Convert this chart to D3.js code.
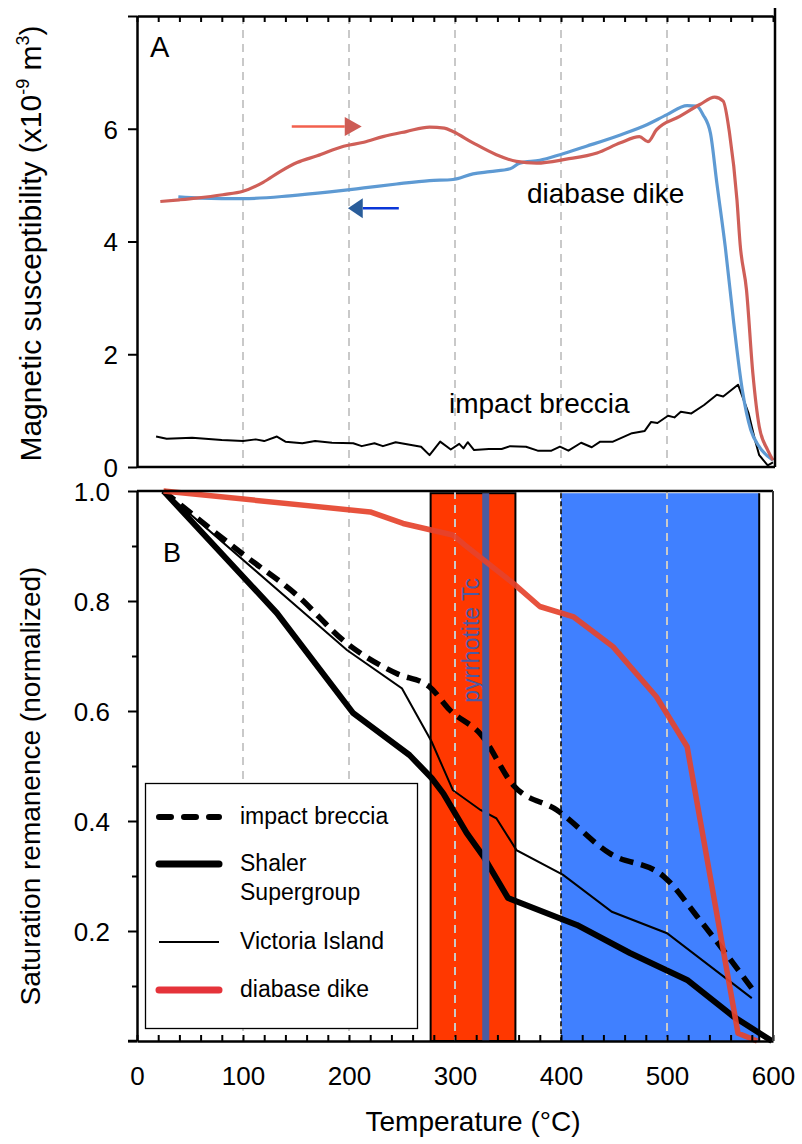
<!DOCTYPE html>
<html>
<head>
<meta charset="utf-8">
<script src="https://cdn.jsdelivr.net/npm/d3@7"></script>
<style>
  body { margin: 0; background: #fff; }
  svg { display: block; font-family: "Liberation Sans", Arial, sans-serif; }
</style>
</head>
<body>
<svg id="chart"></svg>
<script>
const width = 802;
const height = 1144;

// ---- panel A : magnetic susceptibility vs temperature ----
const heatT = [22, 40, 56, 81, 100, 119, 135, 151, 170, 195, 214, 232, 254, 276, 290, 298, 317, 339, 358, 377, 405, 434, 456, 474, 482, 490, 512, 531, 545, 553, 559, 566, 569, 575, 581, 587, 595, 600];
const heatK = [4.71, 4.74, 4.77, 4.83, 4.89, 5.05, 5.24, 5.40, 5.52, 5.69, 5.76, 5.86, 5.95, 6.03, 6.01, 5.95, 5.75, 5.54, 5.42, 5.39, 5.46, 5.57, 5.75, 5.86, 5.77, 5.98, 6.22, 6.43, 6.56, 6.49, 5.92, 4.74, 3.95, 3.14, 1.66, 0.72, 0.30, 0.12];

const coolT = [39, 60, 100, 144, 182, 214, 245, 276, 298, 317, 333, 352, 361, 380, 399, 424, 456, 481, 500, 519, 528, 534, 541, 547, 555, 563, 571, 579, 587, 600];
const coolK = [4.79, 4.77, 4.76, 4.81, 4.88, 4.95, 5.02, 5.08, 5.10, 5.20, 5.24, 5.29, 5.39, 5.44, 5.54, 5.69, 5.89, 6.07, 6.25, 6.41, 6.40, 6.25, 5.92, 5.04, 3.90, 2.55, 1.37, 0.66, 0.36, 0.12];

const brecciaT = [18, 28, 52, 80, 100, 112, 120, 132, 140, 156, 168, 184, 204, 212, 224, 232, 244, 256, 268, 276, 286, 296, 304, 308, 312, 318, 332, 344, 352, 367, 378, 391, 399, 407, 419, 429, 437, 449, 467, 479, 485, 491, 501, 507, 513, 523, 535, 547, 553, 567, 577, 583, 587, 595, 600];
const brecciaK = [0.54, 0.50, 0.52, 0.48, 0.46, 0.49, 0.46, 0.54, 0.45, 0.42, 0.46, 0.43, 0.42, 0.37, 0.42, 0.37, 0.44, 0.40, 0.36, 0.21, 0.45, 0.31, 0.41, 0.33, 0.44, 0.30, 0.32, 0.32, 0.37, 0.36, 0.29, 0.29, 0.36, 0.29, 0.43, 0.35, 0.45, 0.45, 0.60, 0.64, 0.80, 0.78, 0.91, 0.88, 0.98, 0.95, 1.10, 1.28, 1.25, 1.46, 0.95, 0.48, 0.21, 0.03, 0.08];

// ---- panel B : normalized saturation remanence ----
const dikeT = [25, 220, 251, 298, 309, 355, 380, 412, 449, 490, 519, 567, 585];
const dikeM = [1.0, 0.962, 0.941, 0.92, 0.902, 0.832, 0.79, 0.771, 0.717, 0.626, 0.535, 0.014, 0.0];

const impactT = [25, 100, 150, 198, 245, 276, 295, 325, 355, 396, 446, 497, 531, 580];
const impactM = [1.0, 0.885, 0.812, 0.723, 0.668, 0.644, 0.602, 0.556, 0.465, 0.42, 0.341, 0.299, 0.22, 0.096];

const shalerT = [25, 132, 204, 257, 278, 289, 311, 327, 350, 415, 465, 519, 563, 599];
const shalerM = [1.0, 0.778, 0.596, 0.52, 0.478, 0.45, 0.378, 0.335, 0.26, 0.211, 0.16, 0.111, 0.044, 0.0];

const victoriaT = [25, 198, 250, 278, 298, 324, 339, 358, 402, 448, 500, 580];
const victoriaM = [1.0, 0.711, 0.641, 0.544, 0.456, 0.42, 0.405, 0.347, 0.302, 0.235, 0.196, 0.078];

const pyrrhotiteBand = [277, 357];
const blueBand = [400, 587];
const pyrrhotiteTc = 329;

const xTicks = [0, 100, 200, 300, 400, 500, 600];
const gridTemps = [100, 200, 300, 400, 500];
const yTicksA = [0, 2, 4, 6, 8];
const yLabelsA = [0, 2, 4, 6];
const yTicksB = d3.range(0, 11).map(i => i / 10);
const yLabelsB = [0.2, 0.4, 0.6, 0.8, 1.0];

const legendItems = ["impact breccia", "Shaler", "Victoria Island", "diabase dike"];

const svg = d3.select("#chart")
  .attr("width", width)
  .attr("height", height);

const x = d3.scaleLinear().domain([0, 600]).range([137, 773]);
const yA = d3.scaleLinear().domain([0, 8]).range([467, 16]);
const yB = d3.scaleLinear().domain([0, 1]).range([1041, 491]);

const zip = (a, b) => a.map((d, i) => [d, b[i]]);
const lineA = d3.line().x(d => x(d[0])).y(d => yA(d[1]));
const lineB = d3.line().x(d => x(d[0])).y(d => yB(d[1]));

const grid = "#c9c9c9";

// ================= PANEL A =================
const gA = svg.append("g");

gA.selectAll(".gridA")
  .data(gridTemps)
  .enter().append("line")
  .attr("x1", d => x(d)).attr("x2", d => x(d))
  .attr("y1", yA(8)).attr("y2", yA(0))
  .attr("stroke", grid).attr("stroke-width", 2)
  .attr("stroke-dasharray", "8,6");

gA.append("path")
  .datum(zip(brecciaT, brecciaK))
  .attr("d", lineA)
  .attr("fill", "none").attr("stroke", "#000").attr("stroke-width", 2)
  .attr("stroke-linejoin", "round");

gA.append("path")
  .datum(zip(coolT, coolK))
  .attr("d", lineA.curve(d3.curveMonotoneX))
  .attr("fill", "none").attr("stroke", "#5e9ad3").attr("stroke-width", 3.2);

gA.append("path")
  .datum(zip(heatT, heatK))
  .attr("d", lineA.curve(d3.curveMonotoneX))
  .attr("fill", "none").attr("stroke", "#cf5f58").attr("stroke-width", 3.2);

// arrows (heating -> , cooling <-)
gA.append("line")
  .attr("x1", x(146)).attr("x2", x(196))
  .attr("y1", yA(6.04)).attr("y2", yA(6.04))
  .attr("stroke", "#f2604e").attr("stroke-width", 2.5);
gA.append("path")
  .attr("d", `M${x(196)},${yA(6.04) - 9.5}L${x(212)},${yA(6.04)}L${x(196)},${yA(6.04) + 9.5}Z`)
  .attr("fill", "#cd5c55");

gA.append("line")
  .attr("x1", x(247)).attr("x2", x(213))
  .attr("y1", yA(4.59)).attr("y2", yA(4.59))
  .attr("stroke", "#0a36d8").attr("stroke-width", 2.5);
gA.append("path")
  .attr("d", `M${x(213)},${yA(4.59) - 10}L${x(199)},${yA(4.59)}L${x(213)},${yA(4.59) + 10}Z`)
  .attr("fill", "#2a5d9a");

gA.append("text").attr("x", 527).attr("y", 203)
  .attr("font-size", 28).text("diabase dike");
gA.append("text").attr("x", 449).attr("y", 413)
  .attr("font-size", 28).text("impact breccia");
gA.append("text").attr("x", 150).attr("y", 57)
  .attr("font-size", 29).text("A");

// axes A
const axA = gA.append("g")
  .attr("transform", `translate(${x(0)},0)`)
  .call(d3.axisLeft(yA).tickValues(yTicksA).tickSize(9).tickSizeOuter(0)
    .tickFormat(d => yLabelsA.includes(d) ? d : ""));
axA.select(".domain").attr("stroke-width", 2.5);
axA.selectAll(".tick line").attr("stroke-width", 2);
axA.selectAll(".tick text").attr("font-size", 26).attr("font-family", null)
  .attr("x", -19).attr("dy", "0.36em");

const topA = gA.append("g")
  .attr("transform", `translate(0,${yA(8)})`)
  .call(d3.axisTop(x).tickValues(d3.range(0, 601, 20)).tickSize(-6).tickSizeOuter(0).tickFormat(""));
topA.select(".domain").attr("stroke-width", 2.5);
topA.selectAll(".tick line").attr("stroke-width", 2);

gA.append("line").attr("x1", x(0)).attr("x2", x(600) + 2)
  .attr("y1", yA(0)).attr("y2", yA(0))
  .attr("stroke", "#000").attr("stroke-width", 2.5);
gA.append("line").attr("x1", x(600) + 2).attr("x2", x(600) + 2)
  .attr("y1", yA(8) - 8).attr("y2", yA(0))
  .attr("stroke", "#000").attr("stroke-width", 2.5);

svg.append("text")
  .attr("transform", `translate(41,${(yA(0) + yA(8)) / 2 + 2}) rotate(-90)`)
  .attr("text-anchor", "middle").attr("font-size", 30)
  .call(t => {
    t.append("tspan").text("Magnetic susceptibility (x10");
    t.append("tspan").attr("font-size", 18).attr("dy", -12).text("-9");
    t.append("tspan").attr("dy", 12).text(" m");
    t.append("tspan").attr("font-size", 18).attr("dy", -12).text("3");
    t.append("tspan").attr("dy", 12).text(")");
  });

// ================= PANEL B =================
const gB = svg.append("g");

gB.append("rect")
  .attr("x", x(pyrrhotiteBand[0])).attr("width", x(pyrrhotiteBand[1]) - x(pyrrhotiteBand[0]))
  .attr("y", yB(0.996)).attr("height", yB(0) - yB(0.996))
  .attr("fill", "#ff3800").attr("stroke", "#000").attr("stroke-width", 2);

gB.append("rect")
  .attr("x", x(blueBand[0])).attr("width", x(blueBand[1]) - x(blueBand[0]))
  .attr("y", yB(0.996)).attr("height", yB(0) - yB(0.996))
  .attr("fill", "#4080ff");
gB.append("line")
  .attr("x1", x(blueBand[1])).attr("x2", x(blueBand[1]))
  .attr("y1", yB(0.996)).attr("y2", yB(0))
  .attr("stroke", "#000").attr("stroke-width", 2);

gB.selectAll(".gridB")
  .data(gridTemps)
  .enter().append("line")
  .attr("x1", d => x(d)).attr("x2", d => x(d))
  .attr("y1", yB(1)).attr("y2", yB(0))
  .attr("stroke", grid).attr("stroke-width", 2)
  .attr("stroke-dasharray", "8,6");

gB.append("line")
  .attr("x1", x(blueBand[0])).attr("x2", x(blueBand[0]))
  .attr("y1", yB(0.996)).attr("y2", yB(0))
  .attr("stroke", "#000").attr("stroke-width", 1.5)
  .attr("stroke-dasharray", "5,3");

gB.append("path")
  .datum(zip(victoriaT, victoriaM))
  .attr("d", lineB)
  .attr("fill", "none").attr("stroke", "#000").attr("stroke-width", 2);

gB.append("path")
  .datum(zip(shalerT, shalerM))
  .attr("d", lineB)
  .attr("fill", "none").attr("stroke", "#000").attr("stroke-width", 6)
  .attr("stroke-linejoin", "round");

gB.append("path")
  .datum(zip(impactT, impactM))
  .attr("d", lineB.curve(d3.curveMonotoneX))
  .attr("fill", "none").attr("stroke", "#000").attr("stroke-width", 5.5)
  .attr("stroke-dasharray", "14,8");

gB.append("line")
  .attr("x1", x(pyrrhotiteTc)).attr("x2", x(pyrrhotiteTc))
  .attr("y1", yB(0.996)).attr("y2", yB(0))
  .attr("stroke", "#4a5ca0").attr("stroke-width", 7);

gB.append("path")
  .datum(zip(dikeT, dikeM))
  .attr("d", d3.line().x(d => x(d[0])).y(d => yB(d[1])))
  .attr("fill", "none").attr("stroke", "#e5432c").attr("stroke-width", 5.5)
  .attr("stroke-opacity", 0.92).attr("stroke-linejoin", "round");

gB.append("text")
  .attr("transform", `translate(${x(323)},${yB(0.615)}) rotate(-90)`)
  .attr("font-size", 23).attr("fill", "#4a5aa5")
  .text("pyrrhotite Tc");

gB.append("text").attr("x", 163).attr("y", 562)
  .attr("font-size", 27).text("B");

// axes B
const axB = gB.append("g")
  .attr("transform", `translate(${x(0)},0)`)
  .call(d3.axisLeft(yB).tickValues(yTicksB).tickSizeOuter(0)
    .tickFormat(d => yLabelsB.some(v => Math.abs(v - d) < 1e-9) ? d3.format(".1f")(d) : ""));
axB.select(".domain").attr("stroke-width", 2.5);
axB.selectAll(".tick line")
  .attr("stroke-width", 2)
  .attr("x2", (d, i) => i % 2 === 0 ? -9 : -5);
axB.selectAll(".tick text").attr("font-size", 26).attr("font-family", null)
  .attr("x", -27).attr("dy", "0.36em");

const botB = gB.append("g")
  .attr("transform", `translate(0,${yB(0)})`)
  .call(d3.axisBottom(x).tickValues(d3.range(0, 601, 20)).tickSize(-6).tickSizeOuter(0)
    .tickFormat(d => xTicks.includes(d) ? d : ""));
botB.select(".domain").attr("stroke-width", 2.5);
botB.selectAll(".tick line").attr("stroke-width", 2);
botB.selectAll(".tick text").attr("font-size", 26).attr("font-family", null)
  .attr("y", 44).attr("dy", 0);

gB.append("line").attr("x1", x(0) - 9).attr("x2", x(0))
  .attr("y1", yB(0)).attr("y2", yB(0))
  .attr("stroke", "#000").attr("stroke-width", 2.5);
gB.append("line").attr("x1", x(0)).attr("x2", x(600))
  .attr("y1", yB(1)).attr("y2", yB(1))
  .attr("stroke", "#000").attr("stroke-width", 2.5);
gB.append("line").attr("x1", x(600)).attr("x2", x(600))
  .attr("y1", yB(1)).attr("y2", yB(0))
  .attr("stroke", "#333").attr("stroke-width", 2);

svg.append("text")
  .attr("transform", `translate(40,${(yB(0) + yB(1)) / 2 + 20}) rotate(-90)`)
  .attr("text-anchor", "middle").attr("font-size", 28)
  .text("Saturation remanence (normalized)");

svg.append("text")
  .attr("x", 473).attr("y", 1131)
  .attr("text-anchor", "middle").attr("font-size", 28)
  .text("Temperature (°C)");

// legend
const leg = svg.append("g");
leg.append("rect")
  .attr("x", 145.5).attr("y", 783.5).attr("width", 272).attr("height", 245)
  .attr("fill", "#fff").attr("stroke", "#000").attr("stroke-width", 1.3);

const legY = [817, 864, 942, 990];
const legStyle = [
  { stroke: "#000", w: 6, dash: "12,13", cap: "round" },
  { stroke: "#000", w: 7, dash: null, cap: "round" },
  { stroke: "#000", w: 2, dash: null, cap: "butt" },
  { stroke: "#e5333a", w: 7, dash: null, cap: "round" }
];
legendItems.forEach((name, i) => {
  leg.append("line")
    .attr("x1", 159).attr("x2", 219)
    .attr("y1", legY[i]).attr("y2", legY[i])
    .attr("stroke", legStyle[i].stroke).attr("stroke-width", legStyle[i].w)
    .attr("stroke-dasharray", legStyle[i].dash)
    .attr("stroke-linecap", legStyle[i].cap);
  leg.append("text")
    .attr("x", 240).attr("y", legY[i] + 7)
    .attr("font-size", 23).text(name);
});
leg.append("text").attr("x", 240).attr("y", 900)
  .attr("font-size", 23).text("Supergroup");
</script>
</body>
</html>
